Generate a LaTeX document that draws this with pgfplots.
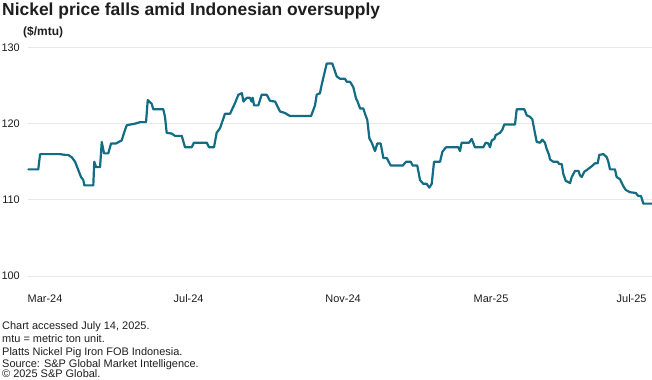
\documentclass[border=0pt]{standalone}
\usepackage{fontspec}
\setmainfont{Liberation Sans}
\usepackage{pgfplots}
\pgfplotsset{compat=1.18}
\definecolor{linecol}{HTML}{116C84}
\definecolor{textcol}{HTML}{1E1E1E}
\definecolor{gridcol}{HTML}{E8E8E8}
\begin{document}
\begin{tikzpicture}
\useasboundingbox (0,0) rectangle (652bp,380bp);
\node[anchor=base west, inner sep=0pt, text=textcol, font=\fontsize{17.5}{20}\selectfont\bfseries] at (2bp,364.5bp) {Nickel price falls amid Indonesian oversupply};
\node[anchor=base west, inner sep=0pt, text=textcol, font=\fontsize{12}{14}\selectfont\bfseries] at (23bp,344.5bp) {(\$/mtu)};
\begin{axis}[
  at={(28bp,104bp)}, anchor=south west,
  scale only axis, width=624bp, height=228.5bp,
  xmin=-14.1, xmax=502.9, ymin=100, ymax=130,
  axis line style={draw=none},
  major tick length=0pt,
  ytick={100,110,120,130},
  xtick={0,119,247,369.5,486},
  xticklabels={Mar-24,Jul-24,Nov-24,Mar-25,Jul-25},
  ymajorgrids,
  grid style={color=gridcol, line width=0.7bp},
  /pgf/number format/assume math mode=true,
  tick label style={font=\fontsize{11}{13}\selectfont, text=textcol},
  yticklabel style={anchor=east, inner sep=0pt, xshift=-8bp},
  xticklabel style={anchor=base, inner sep=0pt, yshift=-26.5bp},
  clip=false,
]
\addplot[color=linecol, line width=2.2bp, line join=round, line cap=round] coordinates {
(-13.8,114.0) (-5.6,114.0) (-4.1,116.0) (12.4,116.0) (16.6,115.9) (19.1,115.9)
(22.1,115.6) (24.9,115.0) (27.6,113.9) (29.8,113.0) (31.7,112.6) (32.6,111.9)
(40.0,111.9) (40.8,115.0) (42.3,114.3) (45.6,114.3) (47.0,117.6) (48.9,116.1)
(52.4,116.1) (54.7,117.4) (58.8,117.4) (63.5,117.8) (65.7,118.9) (67.7,119.8)
(74.6,120.0) (78.7,120.2) (83.7,120.2) (85.1,123.1) (88.4,122.6) (89.7,121.9)
(98.0,121.9) (99.4,120.9) (100.8,118.8) (104.9,118.7) (107.7,118.4) (113.3,118.4)
(116.0,116.9) (121.5,116.9) (123.4,117.5) (134.0,117.5) (135.9,116.9) (140.0,116.9)
(142.2,118.8) (145.0,119.4) (149.1,121.3) (153.3,121.3) (157.4,122.7) (160.2,123.8)
(163.1,124.0) (164.4,122.9) (167.2,123.4) (169.8,123.4) (171.1,122.9) (172.1,123.4)
(173.2,122.4) (176.7,122.4) (179.5,123.8) (183.7,123.8) (186.4,123.0) (190.6,122.9)
(194.7,121.6) (198.8,121.4) (203.0,121.0) (220.4,121.0) (223.7,122.4) (225.1,123.8)
(227.8,124.0) (229.2,125.1) (233.4,127.9) (238.0,127.9) (241.7,126.2) (244.4,125.9)
(248.5,125.9) (249.9,125.5) (252.7,125.5) (255.4,124.8) (257.7,123.3) (258.7,123.0)
(261.0,122.0) (263.7,122.0) (265.1,121.3) (267.0,120.5) (268.7,118.1) (270.7,117.5)
(273.4,116.4) (275.3,117.4) (278.1,117.4) (280.3,115.5) (283.1,115.5) (286.4,114.5)
(296.4,114.5) (299.1,115.0) (303.0,115.0) (304.6,114.5) (308.4,114.5) (310.7,112.6)
(313.4,112.1) (316.2,112.1) (318.4,111.6) (320.4,112.1) (322.3,115.0) (327.3,115.0)
(329.2,116.3) (332.2,116.9) (342.5,116.9) (343.8,116.4) (345.2,117.5) (351.3,117.5)
(353.5,118.0) (356.2,116.9) (363.1,116.9) (365.1,117.5) (367.3,117.4) (368.7,116.9)
(370.1,117.8) (372.3,118.0) (373.4,118.5) (377.0,118.8) (378.9,119.2) (380.5,119.9)
(389.4,119.9) (390.8,121.9) (397.1,121.9) (399.1,121.1) (401.8,120.9) (403.7,120.6)
(406.0,118.7) (407.4,117.6) (410.1,117.5) (412.0,117.9) (414.2,117.5) (415.6,116.7)
(417.6,115.9) (418.4,115.3) (421.1,115.0) (424.8,115.0) (425.9,114.7) (428.1,114.7)
(429.4,113.4) (431.4,112.5) (435.0,112.2) (436.4,113.0) (439.1,113.8) (441.9,113.8)
(443.3,113.2) (444.7,113.0) (446.8,113.7) (449.6,114.0) (452.9,114.4) (455.7,114.8)
(457.9,114.8) (459.2,115.9) (462.6,116.0) (465.4,115.6) (466.7,115.0) (468.1,114.0)
(472.2,114.0) (473.6,113.0) (476.4,112.7) (479.1,111.8) (481.1,111.3) (484.7,111.0)
(489.4,110.9) (491.6,110.5) (493.8,110.5) (495.7,109.5) (502.7,109.5)
};
\end{axis}
\begin{scope}[every node/.style={anchor=base west, inner sep=0pt, text=textcol, font=\fontsize{11}{13}\selectfont}]
\node at (2bp,50bp) {Chart accessed July 14, 2025.};
\node at (2bp,37.3bp) {mtu = metric ton unit.};
\node at (2bp,24.6bp) {Platts Nickel Pig Iron FOB Indonesia.};
\node at (2bp,12.9bp) {Source: S\&P Global Market Intelligence.};
\node at (2bp,2.4bp) {\textcopyright{} 2025 S\&P Global.};
\end{scope}
\end{tikzpicture}
\end{document}
